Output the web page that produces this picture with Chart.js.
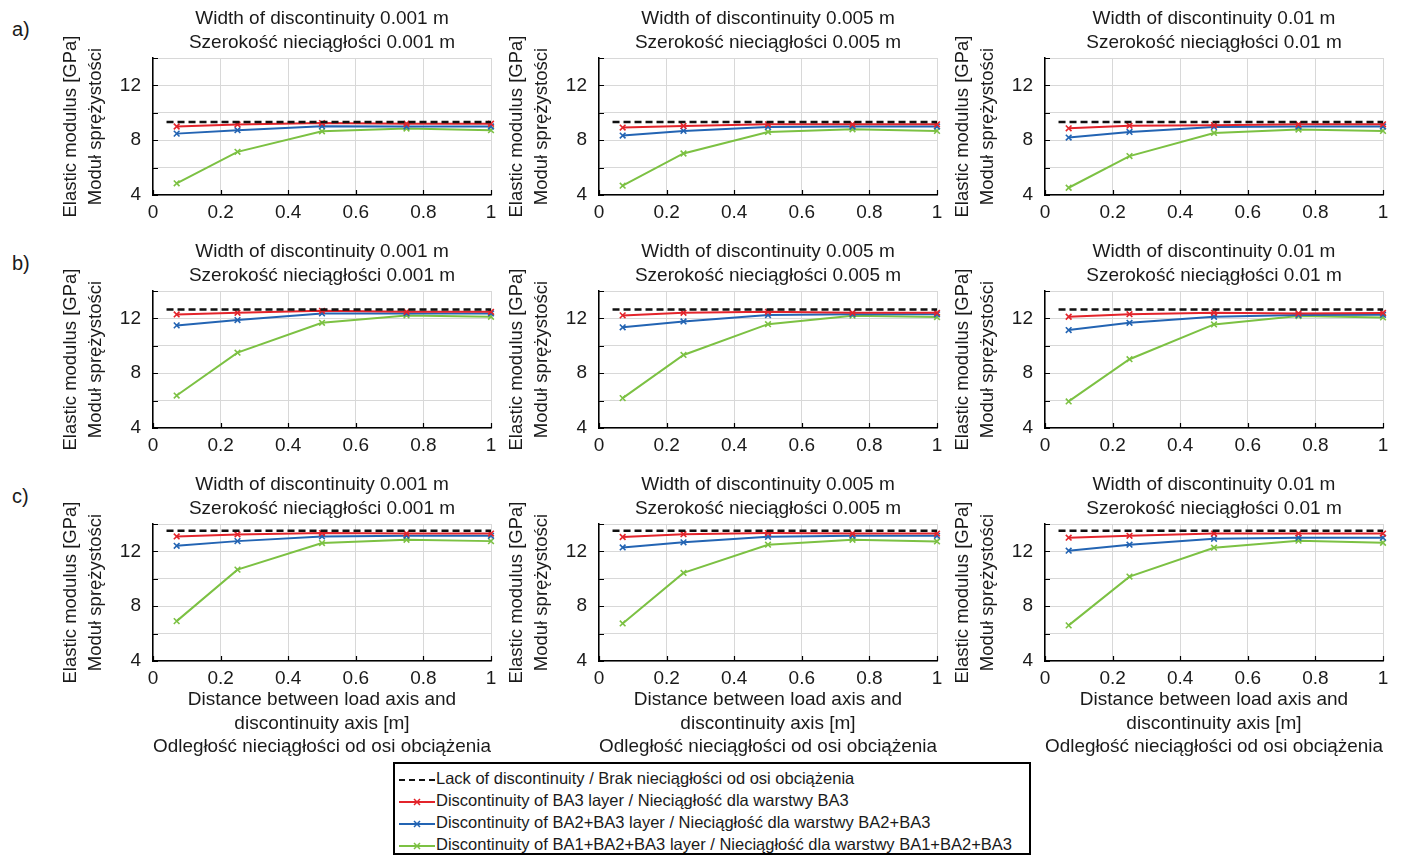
<!DOCTYPE html>
<html>
<head>
<meta charset="utf-8">
<script src="https://cdn.jsdelivr.net/npm/chart.js@4.4.0/dist/chart.umd.min.js"></script>
<style>
  body { margin: 0; background: #fff; width: 1411px; height: 857px; position: relative; overflow: hidden;
         font-family: "Liberation Sans", Arial, sans-serif; color: #1a1a1a; }
  .panel { position: absolute; }
  .row-label { position: absolute; font-size: 20px; }
  #legend { position: absolute; left: 393px; top: 762px; width: 638px; height: 93px; border: 2px solid #000;
            box-sizing: border-box; font-size: 16.5px; }
  .item { position: absolute; left: 4px; height: 22px; line-height: 22px; white-space: nowrap; }
  .item svg { vertical-align: middle; margin-right: 1px; }
</style>
</head>
<body>
<div class="row-label" style="left:12px;top:18px">a)</div>
<div class="row-label" style="left:12px;top:252px">b)</div>
<div class="row-label" style="left:12px;top:485px">c)</div>
<div id="panels"></div>
<div id="legend"></div>
<script>
// x positions of the discontinuity (distance from load axis) [m]
const xDist = [0.07, 0.25, 0.5, 0.75, 1];
const lackX = [0.04, 1];
const widthLabels = ['0.001', '0.005', '0.01'];

// reference level without discontinuity, one per row (a, b, c)
const lackLevel = [9.33, 12.65, 13.5];

// BA3 discontinuity, [row][column][point]
const ba3 = [
  [[9.0, 9.15, 9.25, 9.2, 9.2], [8.92, 9.04, 9.16, 9.16, 9.16], [8.87, 9.06, 9.1, 9.16, 9.16]],
  [[12.29, 12.41, 12.55, 12.48, 12.48], [12.22, 12.41, 12.48, 12.41, 12.41], [12.12, 12.31, 12.41, 12.36, 12.4]],
  [[13.09, 13.24, 13.34, 13.3, 13.3], [13.05, 13.26, 13.34, 13.3, 13.3], [13.0, 13.14, 13.3, 13.3, 13.3]],
];
// BA2+BA3 discontinuity
const ba23 = [
  [[8.48, 8.73, 9.02, 9.0, 9.0], [8.34, 8.68, 8.97, 9.0, 9.0], [8.19, 8.6, 8.97, 9.0, 9.0]],
  [[11.49, 11.88, 12.36, 12.36, 12.36], [11.35, 11.78, 12.24, 12.3, 12.3], [11.15, 11.68, 12.12, 12.24, 12.26]],
  [[12.41, 12.75, 13.09, 13.14, 13.14], [12.29, 12.66, 13.07, 13.14, 13.14], [12.05, 12.49, 12.92, 13.0, 13.0]],
];
// BA1+BA2+BA3 discontinuity
const ba123 = [
  [[4.85, 7.15, 8.65, 8.85, 8.73], [4.68, 7.03, 8.6, 8.8, 8.68], [4.53, 6.84, 8.53, 8.78, 8.68]],
  [[6.37, 9.5, 11.68, 12.22, 12.12], [6.18, 9.33, 11.58, 12.2, 12.1], [5.94, 9.02, 11.56, 12.17, 12.07]],
  [[6.91, 10.67, 12.61, 12.85, 12.75], [6.74, 10.43, 12.49, 12.85, 12.73], [6.6, 10.16, 12.27, 12.78, 12.63]],
];

const seriesNames = [
  'Lack of discontinuity / Brak nieciągłości od osi obciążenia',
  'Discontinuity of BA3 layer / Nieciągłość dla warstwy BA3',
  'Discontinuity of BA2+BA3 layer / Nieciągłość dla warstwy BA2+BA3',
  'Discontinuity of BA1+BA2+BA3 layer / Nieciągłość dla warstwy BA1+BA2+BA3',
];
const colors = ['#111111', '#e3242b', '#2364b3', '#7cc143'];

const FONT = '"Liberation Sans", Arial, sans-serif';
const colLeft = [153, 599, 1045];
const rowTop = [58, 291, 524];
const plotW = 338, plotH = 137, yAxisW = 100, titleH = 58, padRight = 15;

function pts(xs, ys) {
  return xs.map((x, i) => ({ x, y: ys[i] }));
}

// MATLAB-style short ticks pointing into the plot area
const innerTicks = {
  id: 'innerTicks',
  afterDatasetsDraw(chart) {
    const { ctx, chartArea, scales } = chart;
    ctx.save();
    ctx.strokeStyle = '#000';
    ctx.lineWidth = 1.2;
    ctx.beginPath();
    scales.y.ticks.forEach((t) => {
      const y = Math.round(scales.y.getPixelForValue(t.value)) + 0.5;
      ctx.moveTo(chartArea.left, y);
      ctx.lineTo(chartArea.left + 5, y);
    });
    scales.x.ticks.forEach((t) => {
      const x = Math.round(scales.x.getPixelForValue(t.value)) + 0.5;
      ctx.moveTo(x, chartArea.bottom);
      ctx.lineTo(x, chartArea.bottom - 5);
    });
    ctx.stroke();
    ctx.restore();
  },
};

function makePanel(row, col) {
  const xh = row === 2 ? 100 : 28;
  const div = document.createElement('div');
  div.className = 'panel';
  div.style.left = (colLeft[col] - yAxisW) + 'px';
  div.style.top = (rowTop[row] - titleH) + 'px';
  div.style.width = (yAxisW + plotW + padRight) + 'px';
  div.style.height = (titleH + plotH + xh) + 'px';
  const canvas = document.createElement('canvas');
  div.appendChild(canvas);
  document.getElementById('panels').appendChild(div);

  const lack = lackX.map(() => lackLevel[row]);
  const series = (i, ys) => ({
    label: seriesNames[i],
    data: pts(xDist, ys),
    borderColor: colors[i],
    backgroundColor: colors[i],
    borderWidth: 2,
    pointStyle: 'crossRot',
    pointRadius: 4,
    pointBorderWidth: 1.6,
    clip: 8,
  });

  new Chart(canvas, {
    type: 'line',
    data: {
      datasets: [
        {
          label: seriesNames[0],
          data: pts(lackX, lack),
          borderColor: colors[0],
          borderWidth: 2.5,
          borderDash: [7, 4],
          pointRadius: 0,
          clip: 8,
        },
        series(1, ba3[row][col]),
        series(2, ba23[row][col]),
        series(3, ba123[row][col]),
      ],
    },
    plugins: [innerTicks],
    options: {
      responsive: true,
      maintainAspectRatio: false,
      animation: false,
      events: [],
      layout: { padding: { left: 0, right: padRight, top: 0, bottom: 0 } },
      plugins: {
        legend: { display: false },
        tooltip: { enabled: false },
        title: {
          display: true,
          fullSize: false,
          text: ['Width of discontinuity ' + widthLabels[col] + ' m', 'Szerokość nieciągłości ' + widthLabels[col] + ' m'],
          color: '#1a1a1a',
          font: { family: FONT, size: 19, weight: 'normal', lineHeight: '24px' },
          padding: { top: 7, bottom: 3 },
        },
      },
      scales: {
        x: {
          type: 'linear',
          min: 0,
          max: 1,
          ticks: { stepSize: 0.2, color: '#1a1a1a', padding: 6, maxRotation: 0,
                   font: { family: FONT, size: 19 },
                   callback: (v) => String(Number(v.toFixed(1))) },
          grid: { color: '#d8d8d8', drawTicks: false },
          border: { color: '#000', width: 1.5 },
          title: {
            display: row === 2,
            text: ['Distance between load axis and', 'discontinuity axis [m]', 'Odległość nieciągłości od osi obciążenia'],
            color: '#1a1a1a',
            font: { family: FONT, size: 19, lineHeight: '23.5px' },
            padding: { top: 0, bottom: 2 },
          },
          afterFit(scale) { scale.height = xh; scale.paddingLeft = 0; scale.paddingRight = 0; },
        },
        y: {
          min: 4,
          max: 14,
          ticks: {
            stepSize: 2,
            color: '#1a1a1a',
            padding: 12,
            font: { family: FONT, size: 19 },
            callback: (v) => (v % 4 === 0 && v <= 12 ? String(v) : ''),
          },
          grid: { color: '#d8d8d8', drawTicks: false },
          border: { color: '#000', width: 1.5 },
          title: {
            display: true,
            text: ['Elastic modulus [GPa]', 'Moduł sprężystości'],
            color: '#1a1a1a',
            font: { family: FONT, size: 18.5, lineHeight: '25px' },
            padding: { top: 5, bottom: 0 },
          },
          afterFit(scale) { scale.width = yAxisW; scale.paddingTop = 0; scale.paddingBottom = 0; },
        },
      },
    },
  });
}

for (let r = 0; r < 3; r += 1) {
  for (let c = 0; c < 3; c += 1) makePanel(r, c);
}

// shared legend box below the grid
const legend = document.getElementById('legend');
seriesNames.forEach((name, i) => {
  const item = document.createElement('div');
  item.className = 'item';
  item.style.top = (3 + i * 22) + 'px';
  const dash = i === 0 ? ' stroke-dasharray="6 4"' : '';
  const mark = i === 0 ? '' :
    '<path d="M15 2 L21 8 M21 2 L15 8" stroke="' + colors[i] + '" stroke-width="1.5"/>';
  item.innerHTML = '<svg width="36" height="10"><line x1="0" y1="5" x2="36" y2="5" stroke="' + colors[i] +
    '" stroke-width="2"' + dash + '/>' + mark + '</svg>' + name;
  legend.appendChild(item);
});
</script>
</body>
</html>
